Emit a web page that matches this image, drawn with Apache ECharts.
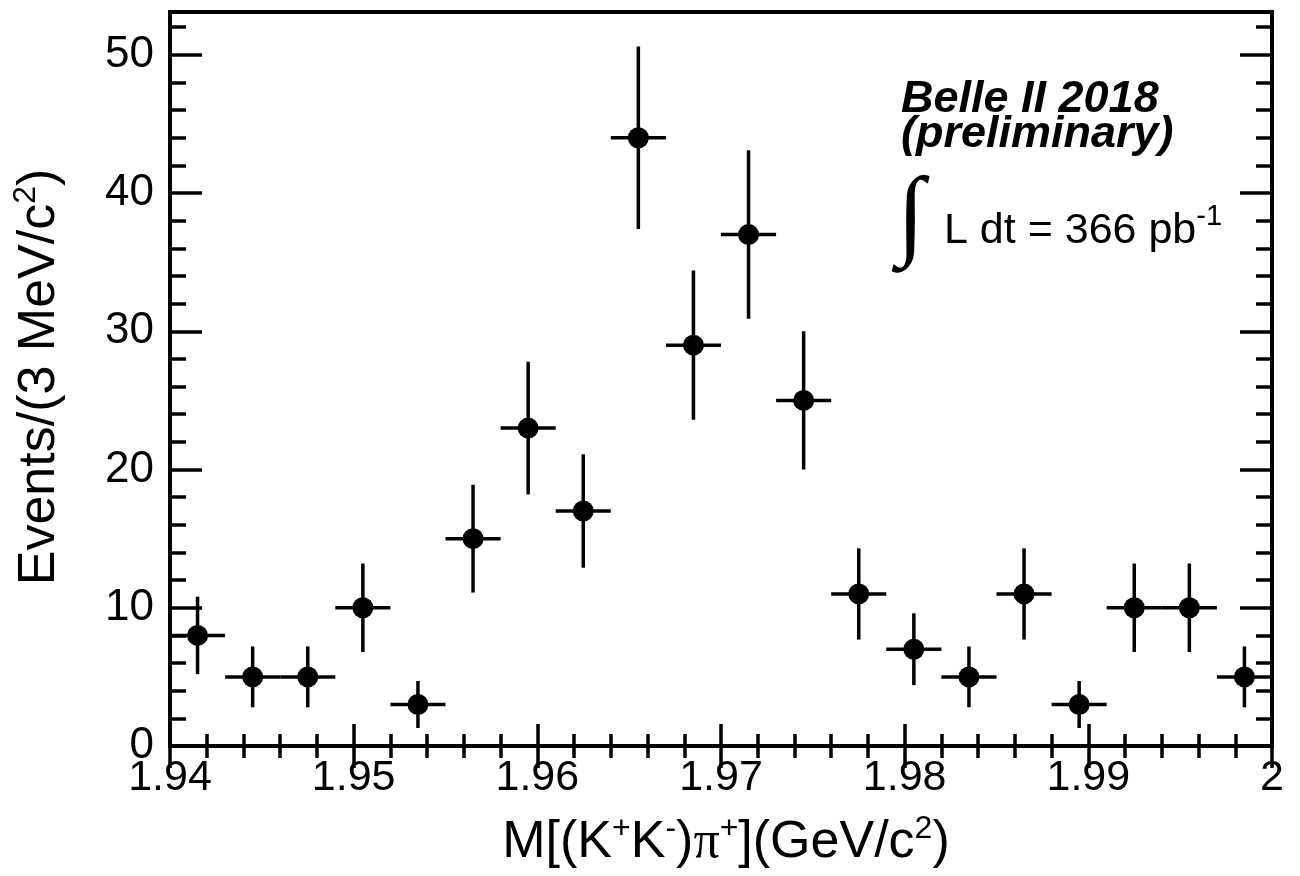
<!DOCTYPE html>
<html>
<head>
<meta charset="utf-8">
<script src="https://cdn.jsdelivr.net/npm/echarts@6/dist/echarts.min.js"></script>
<style>
  html, body { margin: 0; padding: 0; background: #fff; }
  #chart { width: 1300px; height: 876px; }
</style>
</head>
<body>
<div id="chart"></div>
<script>
// ---- data ----
const binCenters = [1.9415, 1.9445, 1.9475, 1.9505, 1.9535, 1.9565, 1.9595, 1.9625, 1.9655, 1.9685,
                    1.9715, 1.9745, 1.9775, 1.9805, 1.9835, 1.9865, 1.9895, 1.9925, 1.9955, 1.9985];
const counts = [8, 5, 5, 10, 3, 15, 23, 17, 44, 29, 37, 25, 11, 7, 5, 11, 3, 10, 10, 5];
const errors = [2.8, 2.2, 2.2, 3.2, 1.7, 3.9, 4.8, 4.1, 6.6, 5.4, 6.1, 5.0, 3.3, 2.6, 2.2, 3.3, 1.7, 3.2, 3.2, 2.2];
const binHalfWidth = 0.0015;
const xRange = [1.94, 2.0];
const yRange = [0, 53.1];

const FONT = "'Liberation Sans', Arial, Helvetica, sans-serif";

const data = binCenters.map((x, i) => [x, counts[i], errors[i]]);

const chart = echarts.init(document.getElementById('chart'), null, { renderer: 'canvas' });

const tickStyle = { color: '#000', width: 3.5 };

function yAxisDef(position, interval, tickLen, showLabel) {
  return {
    type: 'value', position: position, min: yRange[0], max: yRange[1], interval: interval,
    axisLine: { show: false },
    splitLine: { show: false },
    axisTick: { show: true, inside: true, length: tickLen, lineStyle: tickStyle },
    axisLabel: {
      show: showLabel, inside: false, margin: 16, color: '#000', fontSize: 44, fontFamily: FONT,
      formatter: v => (Math.abs(v % 10) < 1e-9 ? String(v) : '')
    }
  };
}

const option = {
  backgroundColor: '#fff',
  animation: false,
  grid: {
    left: 170, right: 28, top: 12, bottom: 130,
    show: true, borderColor: '#000', borderWidth: 4, backgroundColor: 'transparent',
    containLabel: false
  },
  xAxis: [
    {
      type: 'value', position: 'bottom', min: xRange[0], max: xRange[1], interval: 0.01,
      axisLine: { show: false }, splitLine: { show: false },
      axisTick: { show: true, inside: true, length: 22, lineStyle: tickStyle },
      minorTick: { show: true, splitNumber: 5, length: 12, lineStyle: tickStyle },
      minorSplitLine: { show: false },
      axisLabel: {
        show: true, margin: 11, color: '#000', fontSize: 43, fontFamily: FONT,
        formatter: v => String(Math.round(v * 1000) / 1000)
      }
    },
    {
      type: 'value', position: 'top', min: xRange[0], max: xRange[1], interval: 0.01,
      axisLine: { show: false }, splitLine: { show: false },
      axisTick: { show: true, inside: true, length: 22, lineStyle: tickStyle },
      minorTick: { show: true, splitNumber: 5, length: 12, lineStyle: tickStyle },
      axisLabel: { show: false }
    }
  ],
  yAxis: [
    yAxisDef('left', 10, 32, true),
    yAxisDef('left', 2, 16, false),
    yAxisDef('right', 10, 32, false),
    yAxisDef('right', 2, 16, false)
  ],
  series: [{
    type: 'custom',
    xAxisIndex: 0, yAxisIndex: 0,
    data: data,
    clip: true,
    renderItem: function (params, api) {
      const x = api.value(0), y = api.value(1), e = api.value(2);
      const c = api.coord([x, y]);
      const lo = api.coord([x, y - e]);
      const hi = api.coord([x, y + e]);
      const l = api.coord([x - binHalfWidth, y]);
      const r = api.coord([x + binHalfWidth, y]);
      const st = { stroke: '#000', lineWidth: 3.5 };
      return {
        type: 'group',
        children: [
          { type: 'line', shape: { x1: lo[0], y1: lo[1], x2: hi[0], y2: hi[1] }, style: st },
          { type: 'line', shape: { x1: l[0], y1: l[1], x2: r[0], y2: r[1] }, style: st },
          { type: 'circle', shape: { cx: c[0], cy: c[1], r: 10.5 }, style: { fill: '#000' } }
        ]
      };
    }
  }],
  graphic: [
    {
      type: 'text', x: 726, y: 843,
      style: {
        text: '{n|M[(K}{s|+}{n|K}{s|-}{n|)}{p|π}{s|+}{n|](GeV/c}{s|2}{n|)}',
        align: 'center', verticalAlign: 'middle', fill: '#000',
        rich: {
          n: { fontSize: 52, fontFamily: FONT, lineHeight: 60, fill: '#000' },
          p: { fontSize: 52, fontFamily: "'Liberation Serif', serif", lineHeight: 60, fill: '#000' },
          s: { fontSize: 32, fontFamily: FONT, lineHeight: 32, verticalAlign: 'top', fill: '#000' }
        }
      }
    },
    {
      type: 'text', x: 40, y: 377, rotation: Math.PI / 2,
      style: {
        text: '{n|Events/(3 MeV/c}{s|2}{n|)}',
        align: 'center', verticalAlign: 'middle', fill: '#000',
        rich: {
          n: { fontSize: 52, fontFamily: FONT, lineHeight: 60, fill: '#000' },
          s: { fontSize: 32, fontFamily: FONT, lineHeight: 32, verticalAlign: 'top', fill: '#000' }
        }
      }
    },
    {
      type: 'text', x: 901, y: 100,
      style: { text: 'Belle II 2018', font: 'italic bold 45px ' + FONT, fill: '#000', align: 'left', verticalAlign: 'middle' }
    },
    {
      type: 'text', x: 901, y: 135,
      style: { text: '(preliminary)', font: 'italic bold 45px ' + FONT, fill: '#000', align: 'left', verticalAlign: 'middle' }
    },
    {
      type: 'text', x: 911, y: 220,
      style: { text: '∫', font: '100px ' + "'Liberation Serif', serif", fill: '#000', align: 'center', verticalAlign: 'middle' }
    },
    {
      type: 'text', x: 944, y: 231,
      style: {
        text: '{n|L dt = 366 pb}{s|-1}',
        align: 'left', verticalAlign: 'middle', fill: '#000',
        rich: {
          n: { fontSize: 43, fontFamily: FONT, lineHeight: 58, fill: '#000' },
          s: { fontSize: 29, fontFamily: FONT, lineHeight: 29, verticalAlign: 'top', fill: '#000' }
        }
      }
    }
  ]
};

chart.setOption(option);
</script>
</body>
</html>
